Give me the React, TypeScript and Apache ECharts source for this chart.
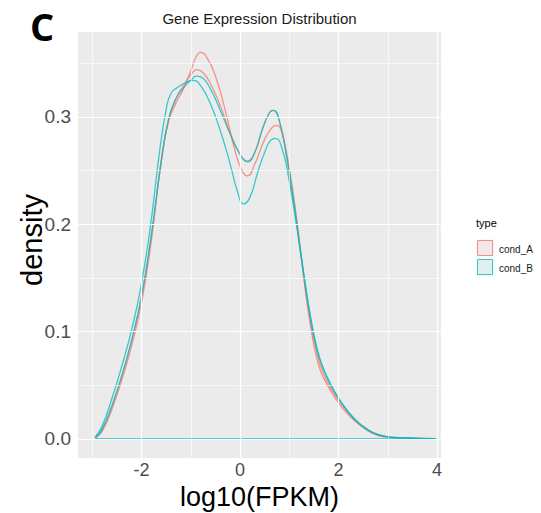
import React, { useEffect, useRef } from "react";
import * as echarts from "echarts";

const chartTitle = "Gene Expression Distribution";
const xTitle = "log10(FPKM)";
const yTitle = "density";
const legendTitle = "type";
const groups = ["cond_A", "cond_B"];
const xTicks = [-2, 0, 2, 4];
const yTicks = [0, 0.1, 0.2, 0.3];
const xMinor = [-3, -1, 1, 3];
const yMinor = [0.05, 0.15, 0.25, 0.35];

// cond_A replicate 1 (x, density)
const condA1: number[][] = [
  [-2.94, 0.001], [-2.8, 0.007], [-2.6, 0.028], [-2.4, 0.055], [-2.2, 0.087], [-2.0, 0.127],
  [-1.8, 0.185], [-1.6, 0.26], [-1.45, 0.296], [-1.3, 0.313], [-1.15, 0.326], [-1.0, 0.343],
  [-0.9, 0.355], [-0.8, 0.36], [-0.7, 0.357], [-0.5, 0.338], [-0.3, 0.306], [-0.1, 0.268],
  [0.05, 0.249], [0.15, 0.245], [0.3, 0.256], [0.5, 0.279], [0.65, 0.29], [0.75, 0.292],
  [0.85, 0.285], [1.0, 0.252], [1.15, 0.205], [1.3, 0.148], [1.45, 0.1], [1.6, 0.068],
  [1.75, 0.052], [1.95, 0.037], [2.15, 0.025], [2.35, 0.016], [2.55, 0.009], [2.75, 0.004],
  [2.95, 0.0018], [3.3, 0.0008], [3.97, 0.0004],
];
// cond_A replicate 2
const condA2: number[][] = [
  [-2.94, 0.001], [-2.8, 0.009], [-2.6, 0.031], [-2.4, 0.059], [-2.2, 0.092], [-2.0, 0.133],
  [-1.8, 0.19], [-1.6, 0.258], [-1.45, 0.298], [-1.3, 0.317], [-1.15, 0.329], [-1.0, 0.339],
  [-0.88, 0.344], [-0.75, 0.341], [-0.6, 0.331], [-0.4, 0.31], [-0.2, 0.285], [0.0, 0.265],
  [0.15, 0.259], [0.3, 0.267], [0.45, 0.288], [0.6, 0.304], [0.68, 0.306], [0.8, 0.296],
  [0.95, 0.262], [1.1, 0.217], [1.25, 0.166], [1.4, 0.117], [1.55, 0.082], [1.7, 0.06],
  [1.9, 0.043], [2.1, 0.03], [2.3, 0.019], [2.5, 0.011], [2.7, 0.006], [2.9, 0.003],
  [3.2, 0.0012], [3.6, 0.0006], [3.97, 0.0004],
];
// cond_B replicate 1
const condB1: number[][] = [
  [-2.94, 0.002], [-2.8, 0.012], [-2.6, 0.038], [-2.4, 0.068], [-2.2, 0.102], [-2.0, 0.145],
  [-1.8, 0.205], [-1.65, 0.262], [-1.5, 0.307], [-1.4, 0.322], [-1.25, 0.328], [-1.1, 0.332],
  [-0.95, 0.334], [-0.8, 0.329], [-0.6, 0.312], [-0.4, 0.287], [-0.2, 0.256], [-0.05, 0.23],
  [0.07, 0.219], [0.2, 0.225], [0.35, 0.247], [0.5, 0.267], [0.62, 0.278], [0.72, 0.28],
  [0.85, 0.271], [1.0, 0.24], [1.15, 0.198], [1.3, 0.152], [1.45, 0.108], [1.6, 0.077],
  [1.8, 0.055], [2.0, 0.038], [2.2, 0.025], [2.4, 0.015], [2.6, 0.008], [2.8, 0.004],
  [3.0, 0.002], [3.4, 0.001], [3.97, 0.0004],
];
// cond_B replicate 2
const condB2: number[][] = [
  [-2.94, 0.001], [-2.8, 0.009], [-2.6, 0.031], [-2.4, 0.059], [-2.2, 0.092], [-2.0, 0.133],
  [-1.8, 0.19], [-1.6, 0.258], [-1.45, 0.298], [-1.3, 0.317], [-1.15, 0.327], [-1.0, 0.334],
  [-0.88, 0.338], [-0.75, 0.336], [-0.6, 0.326], [-0.4, 0.306], [-0.2, 0.284], [0.0, 0.265],
  [0.15, 0.258], [0.3, 0.267], [0.45, 0.288], [0.6, 0.304], [0.68, 0.306], [0.8, 0.296],
  [0.95, 0.262], [1.1, 0.218], [1.25, 0.168], [1.4, 0.122], [1.55, 0.087], [1.7, 0.064],
  [1.9, 0.045], [2.1, 0.031], [2.3, 0.02], [2.5, 0.012], [2.7, 0.006], [2.9, 0.003],
  [3.2, 0.0012], [3.6, 0.0006], [3.97, 0.0004],
];
const baseline: number[][] = [[-2.94, 0], [3.97, 0]];

const RED = "#F8766D";
const CYAN = "#00BFC4";
const FONT = "Liberation Sans, Arial, sans-serif";

const GL = 78, GT = 32, GW = 363, GH = 426;

function curve(name: string, data: number[][], color: string, opacity = 0.78) {
  return {
    type: "line", name, data, smooth: 0.5, showSymbol: false,
    symbol: "none", z: 3, silent: true,
    lineStyle: { color, width: 1.3, opacity },
  };
}

export default function App() {
  const ref = useRef<HTMLDivElement>(null);
  useEffect(() => {
    const chart = echarts.init(ref.current!, null, { renderer: "svg" });
    const gridLine = (w: number) => ({ color: "#FFFFFF", width: w, type: "solid" });
    const option: any = {
      animation: false,
      backgroundColor: "#FFFFFF",
      grid: { left: GL, top: GT, width: GW, height: GH, show: true, backgroundColor: "#EBEBEB", borderWidth: 0 },
      xAxis: {
        type: "value", min: -3.29, max: 4.08,
        axisLine: { show: false }, splitLine: { show: false },
        axisTick: { show: true, customValues: xTicks, length: 4, lineStyle: { color: "#333333", width: 1 } },
        axisLabel: { customValues: xTicks, color: "#4D4D4D", fontSize: 18, fontFamily: FONT, margin: 3,
          formatter: (v: number) => String(v) },
      },
      yAxis: {
        type: "value", min: -0.0177, max: 0.379,
        axisLine: { show: false }, splitLine: { show: false },
        axisTick: { show: true, customValues: yTicks, length: 4, lineStyle: { color: "#333333", width: 1 } },
        axisLabel: { customValues: yTicks, color: "#4D4D4D", fontSize: 19, fontFamily: FONT, margin: 7,
          formatter: (v: number) => v.toFixed(1) },
      },
      series: [
        {
          type: "line", data: [[-3.29, -0.0177]], showSymbol: false, symbol: "none", z: 1, silent: true,
          lineStyle: { opacity: 0 },
          markLine: {
            silent: true, symbol: ["none", "none"], label: { show: false }, animation: false,
            data: [
              ...xMinor.map((v) => ({ xAxis: v, lineStyle: gridLine(0.6) })),
              ...yMinor.map((v) => ({ yAxis: v, lineStyle: gridLine(0.6) })),
              ...xTicks.map((v) => ({ xAxis: v, lineStyle: gridLine(1.2) })),
              ...yTicks.map((v) => ({ yAxis: v, lineStyle: gridLine(1.2) })),
            ],
          },
        },
        curve("cond_A_1", condA1, RED),
        curve("cond_A_2", condA2, RED),
        curve("cond_B_1", condB1, CYAN),
        curve("cond_B_2", condB2, CYAN),
        { ...curve("baseline", baseline, CYAN, 0.9), smooth: false },
      ],
      graphic: [
        { type: "text", x: 42, y: 26, style: { text: "C", fontSize: 38, fontWeight: "bold", fontFamily: "Open Sans, sans-serif", fill: "#000", align: "center", verticalAlign: "middle" } },
        { type: "text", x: GL + GW / 2, y: 18, style: { text: chartTitle, fontSize: 15, fontFamily: FONT, fill: "#1A1A1A", align: "center", verticalAlign: "middle" } },
        { type: "text", x: GL + GW / 2, y: 497, style: { text: xTitle, fontSize: 27, fontFamily: FONT, fill: "#000", align: "center", verticalAlign: "middle" } },
        { type: "text", x: 32, y: GT + GH / 2 - 5, rotation: Math.PI / 2, style: { text: yTitle, fontSize: 29, fontFamily: FONT, fill: "#000", align: "center", verticalAlign: "middle" } },
        { type: "text", x: 476, y: 223, style: { text: legendTitle, fontSize: 11, fontFamily: FONT, fill: "#000", align: "left", verticalAlign: "middle" } },
        { type: "rect", shape: { x: 476, y: 239, width: 18, height: 18 }, style: { fill: "#F2F2F2", stroke: "#FFFFFF", lineWidth: 1 } },
        { type: "rect", shape: { x: 477.5, y: 240.5, width: 15, height: 15 }, style: { fill: "rgba(248,118,109,0.08)", stroke: RED, lineWidth: 0.8 } },
        { type: "rect", shape: { x: 476, y: 258, width: 18, height: 18 }, style: { fill: "#F2F2F2", stroke: "#FFFFFF", lineWidth: 1 } },
        { type: "rect", shape: { x: 477.5, y: 259.5, width: 15, height: 15 }, style: { fill: "rgba(0,191,196,0.08)", stroke: CYAN, lineWidth: 0.8 } },
        { type: "text", x: 499, y: 249, style: { text: groups[0], fontSize: 10, fontFamily: FONT, fill: "#1A1A1A", align: "left", verticalAlign: "middle" } },
        { type: "text", x: 499, y: 268, style: { text: groups[1], fontSize: 10, fontFamily: FONT, fill: "#1A1A1A", align: "left", verticalAlign: "middle" } },
      ],
    };
    chart.setOption(option);
    return () => chart.dispose();
  }, []);
  return <div ref={ref} style={{ position: "fixed", left: 0, top: 0, width: 541, height: 513, background: "#fff" }} />;
}
